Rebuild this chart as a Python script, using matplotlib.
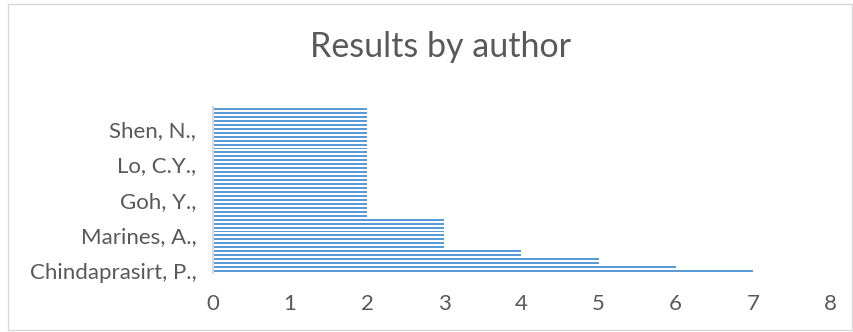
import matplotlib.pyplot as plt
import matplotlib.patches as mpatches
import numpy as np

# results per author, bottom bar first (42 authors, only some names are labelled)
counts = [7, 6, 5, 5, 4, 4] + [3] * 8 + [2] * 28
labelled = {0: "Chindaprasirt, P.,", 9: "Marines, A.,", 18: "Goh, Y.,",
            27: "Lo, C.Y.,", 36: "Shen, N.,"}
xticks = [0, 1, 2, 3, 4, 5, 6, 7, 8]

plt.rcParams['font.family'] = ['Lato', 'DejaVu Sans']
grey = '#595959'

fig = plt.figure(figsize=(8.54, 3.32), dpi=100)
ax = fig.add_axes([213 / 854, 1 - 273 / 332, 617 / 854, 166 / 332])

pos = np.arange(len(counts))
ax.barh(pos, counts, height=0.5, color='#5B9BD5')

ax.set_xlim(0, 8)
ax.set_ylim(-0.5, len(counts) - 0.5)
ax.set_xticks(xticks)
ax.set_xticklabels([str(t) for t in xticks], fontsize=16, color=grey)
ax.set_yticks(list(labelled.keys()))
ax.set_yticklabels(list(labelled.values()), fontsize=16, color=grey)
ax.tick_params(length=0)
ax.tick_params(axis='y', pad=12)
ax.tick_params(axis='x', pad=15)

for side in ['top', 'right', 'bottom']:
    ax.spines[side].set_visible(False)
ax.spines['left'].set_color('#D9D9D9')
ax.spines['left'].set_linewidth(1.5)

fig.text(441 / 854, 1 - 47 / 332, "Results by author", ha='center', va='center',
         fontsize=24.5, color=grey)

# chart area border
fig.patches.append(mpatches.Rectangle((8 / 854, 2 / 332), 844 / 854, 326 / 332,
                                      transform=fig.transFigure, fill=False,
                                      edgecolor='#D9D9D9', linewidth=1))

fig.savefig('out.png', dpi=100)
